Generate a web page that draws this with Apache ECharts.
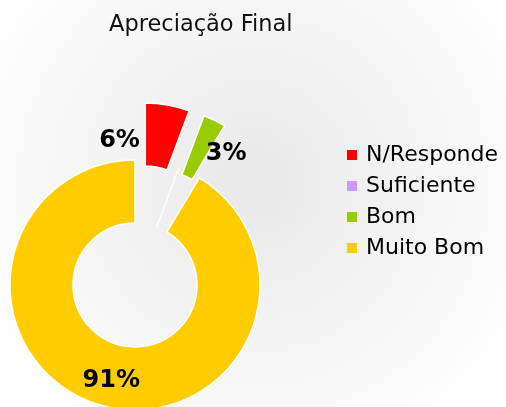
<!DOCTYPE html>
<html>
<head>
<meta charset="utf-8">
<script src="https://cdn.jsdelivr.net/npm/echarts@6/dist/echarts.min.js"></script>
<style>
  html, body { margin: 0; padding: 0; }
  #chart { width: 506px; height: 407px; }
</style>
</head>
<body>
<div id="chart"></div>
<script>
const categories = ['N/Responde', 'Suficiente', 'Bom', 'Muito Bom'];
const values = [5.7, 0, 2.9, 91.4];
const colors = ['#ff0000', '#cc99ff', '#99cc00', '#ffcc00'];
const exploded = [true, false, true, false];
// nudge labels off the thin exploded slices
const labelOffsets = [[-43, 8], [0, 0], [24, 8], [2, 3]];

const font = 'DejaVu Sans, Verdana, sans-serif';

const chart = echarts.init(document.getElementById('chart'));

chart.setOption({
  backgroundColor: {
    type: 'radial', x: 0.5, y: 0.45, r: 0.75,
    colorStops: [
      { offset: 0, color: '#e8e8e8' },
      { offset: 1, color: '#ffffff' },
    ],
  },
  title: {
    text: 'Apreciação Final',
    left: 104,
    top: 9,
    textStyle: { fontFamily: font, fontSize: 22.5, fontWeight: 'normal', color: '#111' },
  },
  legend: {
    orient: 'vertical',
    left: 342,
    top: 139,
    itemWidth: 10,
    itemHeight: 10,
    itemGap: 9,
    icon: 'rect',
    selectedMode: false,
    data: categories,
    itemStyle: { borderWidth: 0 },
    textStyle: { fontFamily: font, fontSize: 22, lineHeight: 22, color: '#000', padding: [0, 0, 0, 4] },
  },
  series: [
    {
      type: 'pie',
      center: [135, 285],
      radius: [62, 125],
      startAngle: 90,
      clockwise: true,
      avoidLabelOverlap: false,
      selectedMode: 'multiple',
      selectedOffset: 58,
      percentPrecision: 0,
      itemStyle: { borderColor: '#fff', borderWidth: 1.5 },
      select: { itemStyle: { borderColor: '#fff', borderWidth: 1.5 } },
      label: {
        show: true,
        position: 'inside',
        formatter: '{d}%',
        fontFamily: font,
        fontSize: 24,
        fontWeight: 'bold',
        color: '#000',
      },
      labelLine: { show: false },
      labelLayout: (params) => ({
        dx: labelOffsets[params.dataIndex][0],
        dy: labelOffsets[params.dataIndex][1],
      }),
      data: categories.map((name, i) => ({
        name,
        value: values[i],
        selected: exploded[i],
        itemStyle: { color: colors[i] },
        label: { show: values[i] > 0 },
      })),
    },
  ],
});
</script>
</body>
</html>
